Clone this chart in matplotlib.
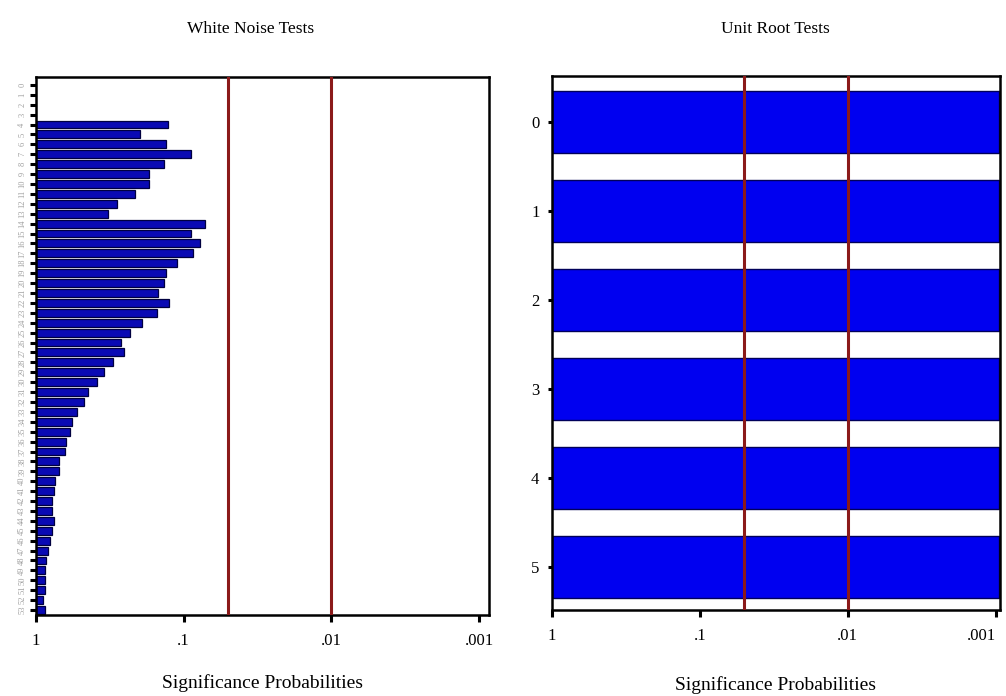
import numpy as np
import matplotlib
matplotlib.use('Agg')
import matplotlib.pyplot as plt

plt.rcParams['font.family'] = ['Liberation Serif', 'DejaVu Serif']

# White noise test: significance probability per lag (lags 0-3 have no test)
WN_LAGS = list(range(0, 54))
WN_P = [np.nan, np.nan, np.nan, np.nan,
        0.128, 0.198, 0.132, 0.089, 0.136, 0.172, 0.172, 0.214, 0.283, 0.326,
        0.072, 0.089, 0.078, 0.087, 0.111, 0.132, 0.136, 0.149, 0.126, 0.152,
        0.191, 0.231, 0.266, 0.254, 0.301, 0.346, 0.386, 0.445, 0.473, 0.528,
        0.570, 0.589, 0.627, 0.636, 0.699, 0.699, 0.743, 0.755, 0.779, 0.779,
        0.755, 0.779, 0.804, 0.829, 0.856, 0.869, 0.869, 0.869, 0.897, 0.869]

# Unit root tests: significance probability per augmenting lag
UR_LAGS = [0, 1, 2, 3, 4, 5]
UR_P = [0.00095, 0.00095, 0.00095, 0.00095, 0.00095, 0.00095]

SIG_LEVELS = [0.05, 0.01]
X_TICKS = [1, 0.1, 0.01, 0.001]
X_LABELS = ['1', '.1', '.01', '.001']

fig = plt.figure(figsize=(10.06, 6.96), dpi=100)
ax1 = fig.add_axes([0.0358, 0.1164, 0.4502, 0.7730])
ax2 = fig.add_axes([0.5487, 0.1236, 0.4453, 0.7672])

RED = '#8b1a1a'


def style_axis(ax, right_lim, labelpad):
    ax.set_xscale('log')
    ax.set_xlim(1, right_lim)
    ax.set_xticks(X_TICKS)
    ax.set_xticklabels(X_LABELS, fontsize=12)
    ax.minorticks_off()
    for s in ax.spines.values():
        s.set_linewidth(1.8)
        s.set_color('black')
    ax.tick_params(axis='x', length=5, width=2.2, pad=8)
    for lvl in SIG_LEVELS:
        ax.axvline(lvl, color=RED, lw=2.2, zorder=3)
    ax.set_xlabel('Significance Probabilities', fontsize=14, labelpad=labelpad)


# ── White noise panel ─────────────────────────────────────────────────────────
wn_p = np.array(WN_P, dtype=float)
ok = np.isfinite(wn_p)
lags = np.array(WN_LAGS)[ok]
ax1.barh(lags, wn_p[ok] - 1, left=1, height=0.8, color='#0a0ab4',
         edgecolor='#000040', linewidth=0.9, zorder=2)
style_axis(ax1, 10 ** -3.067, 18)
ax1.set_ylim(53.5, -0.8)
ax1.set_yticks(WN_LAGS)
ax1.set_yticklabels([str(l) for l in WN_LAGS], fontsize=6, color='#a0a0a0',
                    rotation=90, va='center')
ax1.tick_params(axis='y', length=4, width=2.2, pad=3)
fig.text(0.249, 0.958, 'White Noise Tests', ha='center', va='center', fontsize=12.5)

# ── Unit root panel ───────────────────────────────────────────────────────────
ax2.barh(UR_LAGS, np.array(UR_P) - 1, left=1, height=0.7, color='#0000f0',
         edgecolor='#00005a', linewidth=1.0, zorder=2)
style_axis(ax2, 10 ** -3.03, 23)
ax2.get_xticklabels()[-1].set_horizontalalignment('right')
ax2.get_xticklabels()[-1].set_x(0.0009)
ax2.set_ylim(5.48, -0.52)
ax2.set_yticks(UR_LAGS)
ax2.set_yticklabels([str(l) for l in UR_LAGS], fontsize=12)
ax2.tick_params(axis='y', length=3, width=2.2, pad=6)
fig.text(0.771, 0.958, 'Unit Root Tests', ha='center', va='center', fontsize=12.5)

fig.savefig('out.png', dpi=100)
